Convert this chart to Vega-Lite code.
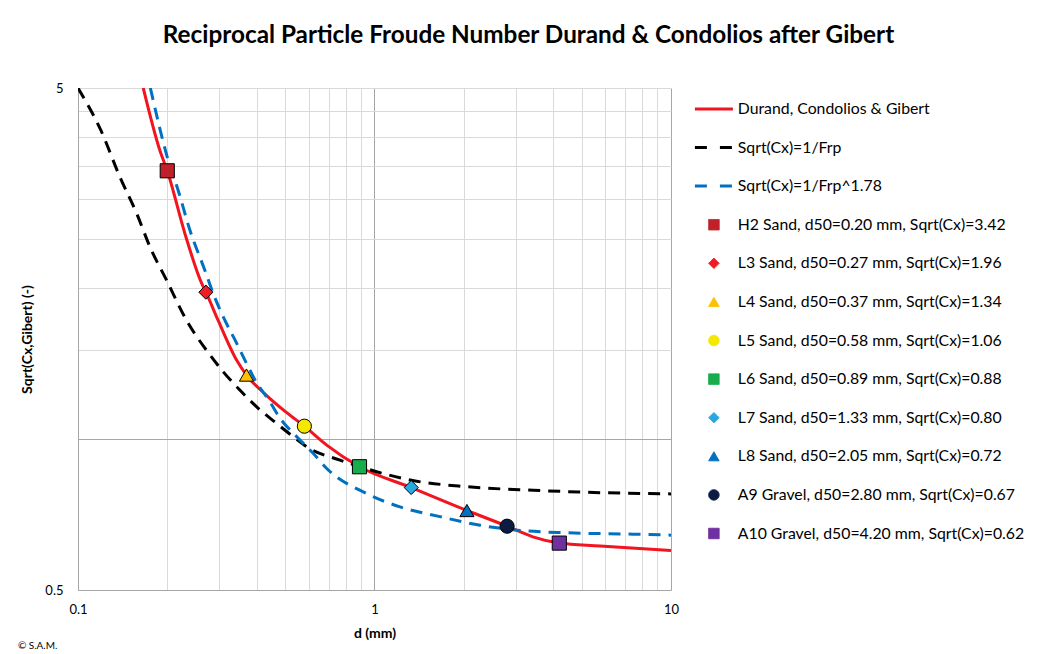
{
  "$schema": "https://vega.github.io/schema/vega-lite/v6.json",
  "width": 593,
  "height": 502,
  "autosize": "none",
  "padding": {"left": 78, "top": 88, "right": 370, "bottom": 64},
  "background": "white",
  "config": {"view": {"stroke": null}, "font": "Lato"},
  "title": {
    "text": "Reciprocal Particle Froude Number Durand & Condolios after Gibert",
    "font": "Lato", "fontSize": 24.3, "fontWeight": "bold", "color": "#000",
    "anchor": "middle", "dx": 154, "offset": 34
  },
  "datasets": {
    "red": [
      {"series": "Durand, Condolios & Gibert", "d": 0.166, "y": 5.0},
      {"series": "Durand, Condolios & Gibert", "d": 0.189, "y": 3.75},
      {"series": "Durand, Condolios & Gibert", "d": 0.2, "y": 3.42},
      {"series": "Durand, Condolios & Gibert", "d": 0.2296, "y": 2.56},
      {"series": "Durand, Condolios & Gibert", "d": 0.2613, "y": 2.04},
      {"series": "Durand, Condolios & Gibert", "d": 0.27, "y": 1.96},
      {"series": "Durand, Condolios & Gibert", "d": 0.2972, "y": 1.72},
      {"series": "Durand, Condolios & Gibert", "d": 0.343, "y": 1.434},
      {"series": "Durand, Condolios & Gibert", "d": 0.37, "y": 1.34},
      {"series": "Durand, Condolios & Gibert", "d": 0.433, "y": 1.22},
      {"series": "Durand, Condolios & Gibert", "d": 0.5057, "y": 1.128},
      {"series": "Durand, Condolios & Gibert", "d": 0.58, "y": 1.06},
      {"series": "Durand, Condolios & Gibert", "d": 0.69, "y": 0.972},
      {"series": "Durand, Condolios & Gibert", "d": 0.89, "y": 0.88},
      {"series": "Durand, Condolios & Gibert", "d": 1.33, "y": 0.80},
      {"series": "Durand, Condolios & Gibert", "d": 2.05, "y": 0.72},
      {"series": "Durand, Condolios & Gibert", "d": 2.8, "y": 0.67},
      {"series": "Durand, Condolios & Gibert", "d": 3.42, "y": 0.638},
      {"series": "Durand, Condolios & Gibert", "d": 4.2, "y": 0.62},
      {"series": "Durand, Condolios & Gibert", "d": 5.76, "y": 0.612},
      {"series": "Durand, Condolios & Gibert", "d": 10, "y": 0.599}
    ],
    "black": [
      {"series": "Sqrt(Cx)=1/Frp", "d": 0.1, "y": 5.0},
      {"series": "Sqrt(Cx)=1/Frp", "d": 0.1196, "y": 4.11},
      {"series": "Sqrt(Cx)=1/Frp", "d": 0.1386, "y": 3.32},
      {"series": "Sqrt(Cx)=1/Frp", "d": 0.1578, "y": 2.81},
      {"series": "Sqrt(Cx)=1/Frp", "d": 0.175, "y": 2.41},
      {"series": "Sqrt(Cx)=1/Frp", "d": 0.199, "y": 2.07},
      {"series": "Sqrt(Cx)=1/Frp", "d": 0.2326, "y": 1.72},
      {"series": "Sqrt(Cx)=1/Frp", "d": 0.2787, "y": 1.47},
      {"series": "Sqrt(Cx)=1/Frp", "d": 0.309, "y": 1.36},
      {"series": "Sqrt(Cx)=1/Frp", "d": 0.352, "y": 1.25},
      {"series": "Sqrt(Cx)=1/Frp", "d": 0.4006, "y": 1.158},
      {"series": "Sqrt(Cx)=1/Frp", "d": 0.468, "y": 1.073},
      {"series": "Sqrt(Cx)=1/Frp", "d": 0.532, "y": 1.01},
      {"series": "Sqrt(Cx)=1/Frp", "d": 0.591, "y": 0.964},
      {"series": "Sqrt(Cx)=1/Frp", "d": 0.765, "y": 0.907},
      {"series": "Sqrt(Cx)=1/Frp", "d": 0.991, "y": 0.864},
      {"series": "Sqrt(Cx)=1/Frp", "d": 1.318, "y": 0.828},
      {"series": "Sqrt(Cx)=1/Frp", "d": 2.046, "y": 0.803},
      {"series": "Sqrt(Cx)=1/Frp", "d": 3.43, "y": 0.79},
      {"series": "Sqrt(Cx)=1/Frp", "d": 6.0, "y": 0.781},
      {"series": "Sqrt(Cx)=1/Frp", "d": 10, "y": 0.777}
    ],
    "blue": [
      {"series": "Sqrt(Cx)=1/Frp^1.78", "d": 0.1754, "y": 5.0},
      {"series": "Sqrt(Cx)=1/Frp^1.78", "d": 0.2017, "y": 3.58},
      {"series": "Sqrt(Cx)=1/Frp^1.78", "d": 0.2179, "y": 3.12},
      {"series": "Sqrt(Cx)=1/Frp^1.78", "d": 0.2387, "y": 2.60},
      {"series": "Sqrt(Cx)=1/Frp^1.78", "d": 0.268, "y": 2.165},
      {"series": "Sqrt(Cx)=1/Frp^1.78", "d": 0.286, "y": 1.945},
      {"series": "Sqrt(Cx)=1/Frp^1.78", "d": 0.309, "y": 1.75},
      {"series": "Sqrt(Cx)=1/Frp^1.78", "d": 0.343, "y": 1.55},
      {"series": "Sqrt(Cx)=1/Frp^1.78", "d": 0.3658, "y": 1.434},
      {"series": "Sqrt(Cx)=1/Frp^1.78", "d": 0.3954, "y": 1.31},
      {"series": "Sqrt(Cx)=1/Frp^1.78", "d": 0.444, "y": 1.185},
      {"series": "Sqrt(Cx)=1/Frp^1.78", "d": 0.48, "y": 1.10},
      {"series": "Sqrt(Cx)=1/Frp^1.78", "d": 0.547, "y": 1.01},
      {"series": "Sqrt(Cx)=1/Frp^1.78", "d": 0.622, "y": 0.935},
      {"series": "Sqrt(Cx)=1/Frp^1.78", "d": 0.69, "y": 0.873},
      {"series": "Sqrt(Cx)=1/Frp^1.78", "d": 0.941, "y": 0.778},
      {"series": "Sqrt(Cx)=1/Frp^1.78", "d": 1.219, "y": 0.732},
      {"series": "Sqrt(Cx)=1/Frp^1.78", "d": 1.663, "y": 0.70},
      {"series": "Sqrt(Cx)=1/Frp^1.78", "d": 2.27, "y": 0.673},
      {"series": "Sqrt(Cx)=1/Frp^1.78", "d": 3.02, "y": 0.658},
      {"series": "Sqrt(Cx)=1/Frp^1.78", "d": 4.45, "y": 0.65},
      {"series": "Sqrt(Cx)=1/Frp^1.78", "d": 7.46, "y": 0.646},
      {"series": "Sqrt(Cx)=1/Frp^1.78", "d": 10, "y": 0.643}
    ],
    "samples": [
      {"series": "H2 Sand, d50=0.20 mm, Sqrt(Cx)=3.42", "d": 0.20, "y": 3.42},
      {"series": "L3 Sand, d50=0.27 mm, Sqrt(Cx)=1.96", "d": 0.27, "y": 1.96},
      {"series": "L4 Sand, d50=0.37 mm, Sqrt(Cx)=1.34", "d": 0.37, "y": 1.34},
      {"series": "L5 Sand, d50=0.58 mm, Sqrt(Cx)=1.06", "d": 0.58, "y": 1.06},
      {"series": "L6 Sand, d50=0.89 mm, Sqrt(Cx)=0.88", "d": 0.89, "y": 0.88},
      {"series": "L7 Sand, d50=1.33 mm, Sqrt(Cx)=0.80", "d": 1.33, "y": 0.80},
      {"series": "L8 Sand, d50=2.05 mm, Sqrt(Cx)=0.72", "d": 2.05, "y": 0.72},
      {"series": "A9 Gravel, d50=2.80 mm, Sqrt(Cx)=0.67", "d": 2.80, "y": 0.67},
      {"series": "A10 Gravel, d50=4.20 mm, Sqrt(Cx)=0.62", "d": 4.20, "y": 0.62}
    ],
    "credit": [{"t": "© S.A.M."}]
  },
  "encoding": {
    "color": {
      "field": "series", "type": "nominal",
      "scale": {
        "domain": [
          "Durand, Condolios & Gibert", "Sqrt(Cx)=1/Frp", "Sqrt(Cx)=1/Frp^1.78",
          "H2 Sand, d50=0.20 mm, Sqrt(Cx)=3.42", "L3 Sand, d50=0.27 mm, Sqrt(Cx)=1.96",
          "L4 Sand, d50=0.37 mm, Sqrt(Cx)=1.34", "L5 Sand, d50=0.58 mm, Sqrt(Cx)=1.06",
          "L6 Sand, d50=0.89 mm, Sqrt(Cx)=0.88", "L7 Sand, d50=1.33 mm, Sqrt(Cx)=0.80",
          "L8 Sand, d50=2.05 mm, Sqrt(Cx)=0.72", "A9 Gravel, d50=2.80 mm, Sqrt(Cx)=0.67",
          "A10 Gravel, d50=4.20 mm, Sqrt(Cx)=0.62"
        ],
        "range": ["#F2141E", "#000000", "#0070C0", "#C0202A", "#EE1C25", "#FFC000", "#F5E800", "#17AD4C", "#29A8E0", "#0070C0", "#0C1B44", "#7030A0"]
      },
      "legend": {
        "orient": "none", "legendX": 628, "legendY": 13, "title": null, "padding": 0,
        "labelFont": "Lato", "labelFontSize": 15.8, "labelColor": "#000", "labelOffset": 16, "labelLimit": 400,
        "rowPadding": 21.6, "symbolLimit": 0,
        "encode": {
          "symbols": {
            "update": {
              "shape": {"signal": "indexof(['Durand, Condolios & Gibert','Sqrt(Cx)=1/Frp','Sqrt(Cx)=1/Frp^1.78'], datum.value) >= 0 ? 'stroke' : scale('shape', datum.value)"},
              "size": {"signal": "indexof(['Durand, Condolios & Gibert','Sqrt(Cx)=1/Frp','Sqrt(Cx)=1/Frp^1.78'], datum.value) >= 0 ? 1444 : 110"},
              "fill": {"signal": "indexof(['Durand, Condolios & Gibert','Sqrt(Cx)=1/Frp','Sqrt(Cx)=1/Frp^1.78'], datum.value) >= 0 ? 'transparent' : scale('color', datum.value)"},
              "stroke": {"signal": "indexof(['Durand, Condolios & Gibert','Sqrt(Cx)=1/Frp','Sqrt(Cx)=1/Frp^1.78'], datum.value) >= 0 ? scale('color', datum.value) : '#000000'"},
              "strokeWidth": {"signal": "indexof(['Durand, Condolios & Gibert','Sqrt(Cx)=1/Frp','Sqrt(Cx)=1/Frp^1.78'], datum.value) >= 0 ? 3 : 1"},
              "strokeDash": {"signal": "indexof(['Sqrt(Cx)=1/Frp','Sqrt(Cx)=1/Frp^1.78'], datum.value) >= 0 ? [12, 13] : [1, 0]"},
              "opacity": {"value": 1}
            }
          }
        }
      }
    }
  },
  "layer": [
    {
      "encoding": {
        "x": {
          "field": "d", "type": "quantitative",
          "scale": {"type": "log", "domain": [0.1, 10], "nice": false},
          "axis": {
            "title": "d (mm)", "titleFont": "Lato", "titleFontSize": 14, "titleFontWeight": "bold", "titleColor": "#000", "titlePadding": 10,
            "values": [0.1, 0.2, 0.3, 0.4, 0.5, 0.6, 0.7, 0.8, 0.9, 1, 2, 3, 4, 5, 6, 7, 8, 9, 10],
            "format": "~g",
            "labelExpr": "indexof([0.1, 1, 10], datum.value) >= 0 ? datum.label : ''",
            "labelFont": "Lato", "labelFontSize": 13, "labelColor": "#000", "labelPadding": 13,
            "labelFlush": false, "labelOverlap": false,
            "ticks": false, "domain": true, "domainColor": "#a6a6a6", "domainWidth": 1,
            "grid": true,
            "gridColor": {"condition": {"test": "datum.value == 1 || datum.value == 10 || datum.value == 0.1", "value": "#a6a6a6"}, "value": "#d9d9d9"},
            "gridWidth": 1
          }
        },
        "y": {
          "field": "y", "type": "quantitative",
          "scale": {"type": "log", "domain": [0.5, 5], "nice": false},
          "axis": {
            "title": "Sqrt(Cx,Gibert) (-)", "titleFont": "Lato", "titleFontSize": 14, "titleFontWeight": "bold", "titleColor": "#000", "titlePadding": 10,
            "values": [0.5, 1, 1.5, 2, 2.5, 3, 3.5, 4, 4.5, 5],
            "format": "~g",
            "labelExpr": "datum.value == 0.5 || datum.value == 5 ? datum.label : ''",
            "labelFont": "Lato", "labelFontSize": 13, "labelColor": "#000", "labelPadding": 15,
            "labelOverlap": false,
            "ticks": false, "domain": true, "domainColor": "#a6a6a6", "domainWidth": 1,
            "grid": true,
            "gridColor": {"condition": {"test": "datum.value == 1", "value": "#a6a6a6"}, "value": "#d9d9d9"},
            "gridWidth": 1
          }
        }
      },
      "layer": [
        {
          "data": {"name": "red"},
          "mark": {"type": "line", "strokeWidth": 3, "interpolate": "monotone", "clip": true},
          "encoding": {}
        },
        {
          "data": {"name": "black"},
          "mark": {"type": "line", "strokeWidth": 3, "strokeDash": [12, 8], "interpolate": "monotone", "clip": true},
          "encoding": {}
        },
        {
          "data": {"name": "blue"},
          "mark": {"type": "line", "strokeWidth": 3, "strokeDash": [12, 8], "interpolate": "monotone", "clip": true},
          "encoding": {}
        },
        {
          "data": {"name": "samples"},
          "mark": {"type": "point", "filled": true, "stroke": "#000000", "strokeWidth": 1, "size": 200, "opacity": 1},
          "encoding": {
            "shape": {
              "field": "series", "type": "nominal", "legend": null,
              "scale": {
                "domain": [
                  "H2 Sand, d50=0.20 mm, Sqrt(Cx)=3.42", "L3 Sand, d50=0.27 mm, Sqrt(Cx)=1.96",
                  "L4 Sand, d50=0.37 mm, Sqrt(Cx)=1.34", "L5 Sand, d50=0.58 mm, Sqrt(Cx)=1.06",
                  "L6 Sand, d50=0.89 mm, Sqrt(Cx)=0.88", "L7 Sand, d50=1.33 mm, Sqrt(Cx)=0.80",
                  "L8 Sand, d50=2.05 mm, Sqrt(Cx)=0.72", "A9 Gravel, d50=2.80 mm, Sqrt(Cx)=0.67",
                  "A10 Gravel, d50=4.20 mm, Sqrt(Cx)=0.62"
                ],
                "range": ["square", "diamond", "triangle-up", "circle", "square", "diamond", "triangle-up", "circle", "square"]
              }
            }
          }
        }
      ]
    },
    {
      "data": {"name": "credit"},
      "mark": {"type": "text", "align": "left", "baseline": "middle", "fontSize": 10, "font": "Lato"},
      "encoding": {
        "x": {"datum": 0.0627, "type": "quantitative", "scale": {"type": "log", "domain": [0.1, 10], "nice": false}},
        "y": {"datum": 0.387, "type": "quantitative", "scale": {"type": "log", "domain": [0.5, 5], "nice": false}},
        "text": {"field": "t", "type": "nominal"},
        "color": {"value": "#000000"}
      }
    }
  ]
}
